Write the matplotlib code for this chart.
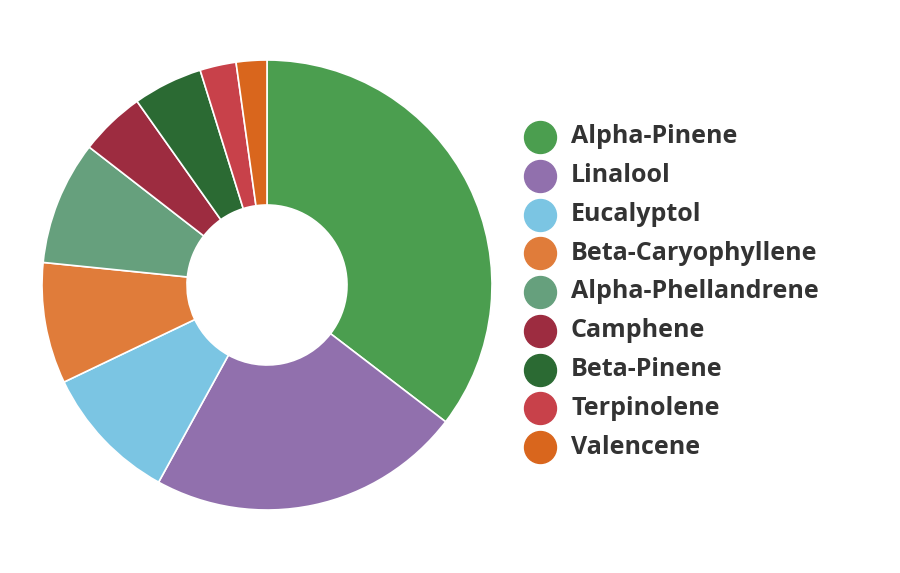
import matplotlib
matplotlib.use("Agg")
import matplotlib.pyplot as plt
from matplotlib.lines import Line2D

labels = ["Alpha-Pinene", "Linalool", "Eucalyptol", "Beta-Caryophyllene",
          "Alpha-Phellandrene", "Camphene", "Beta-Pinene", "Terpinolene", "Valencene"]
values = [35.4, 22.6, 9.9, 8.7, 8.9, 4.7, 5.0, 2.6, 2.2]
colors = ["#4b9e4f", "#9170ad", "#7bc5e3", "#e07c3a", "#66a07d",
          "#9d2c40", "#2b6a33", "#c8414a", "#d9661d"]

fig = plt.figure(figsize=(9, 5.73), dpi=100)
ax = fig.add_axes([42/900, (573-285-225)/573, 450/900, 450/573])
ax.pie(values, colors=colors, startangle=90, counterclock=False,
       wedgeprops=dict(width=145/225, edgecolor="white", linewidth=1.2))
ax.set_aspect("equal")
ax.set_xlim(-1, 1); ax.set_ylim(-1, 1)
ax.axis("off")

for i, (lab, c) in enumerate(zip(labels, colors)):
    ypix = 137 + i * 38.75
    yf = 1 - ypix / 573
    fig.add_artist(Line2D([540/900], [yf], marker="o", markersize=23,
                          color=c, linestyle="none", transform=fig.transFigure))
    fig.text(571/900, yf, lab, fontsize=18, fontweight="bold", color="#333333",
             family="Open Sans", va="center", ha="left")

fig.savefig("out.png", dpi=100, facecolor="white")
